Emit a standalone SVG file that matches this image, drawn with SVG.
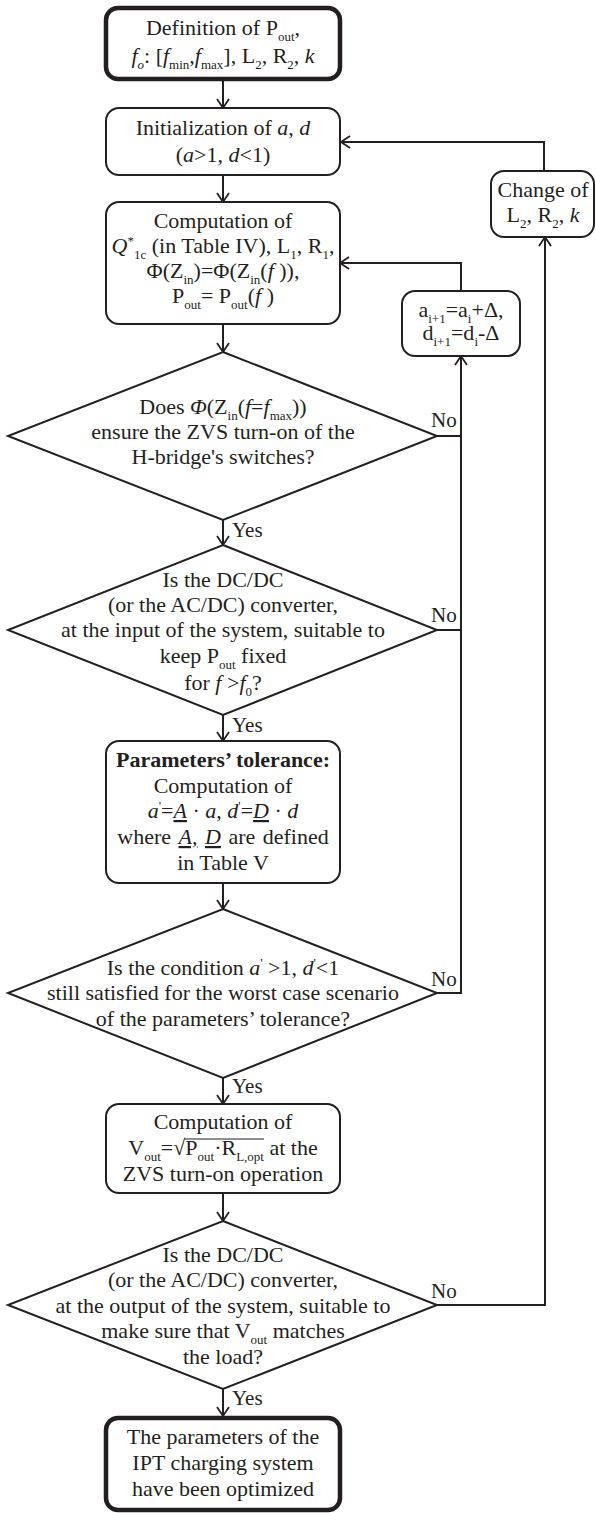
<svg xmlns="http://www.w3.org/2000/svg" width="596" height="1513" viewBox="0 0 596 1513">
<style>
text{font-family:"Liberation Serif","Times New Roman",serif;font-size:22px;fill:#231f20;text-anchor:middle}
.lbl{font-size:21px;text-anchor:start}
.box{fill:#fff;stroke:#231f20;stroke-width:2}
.term{fill:#fff;stroke:#231f20;stroke-width:4.5}
.dia{fill:#fff;stroke:#231f20;stroke-width:2;stroke-linejoin:miter}
.con{fill:none;stroke:#231f20;stroke-width:2}
.i{font-style:italic}
.b{font-weight:bold}
.sub{font-size:13px;baseline-shift:-6px}
.sup{font-size:13px;baseline-shift:8px}
.u{text-decoration:underline}
</style>
<defs>
<marker id="arr" markerUnits="userSpaceOnUse" viewBox="0 0 10 14" refX="9.5" refY="7" markerWidth="10" markerHeight="14" orient="auto" overflow="visible">
<path d="M0.5,1 L9.5,7 L0.5,13" fill="none" stroke="#231f20" stroke-width="1.8"/>
</marker>
</defs>

<g id="connectors">
<path class="con" d="M223,81 V108" marker-end="url(#arr)"/>
<path class="con" d="M223,175 V202" marker-end="url(#arr)"/>
<path class="con" d="M223,324 V352" marker-end="url(#arr)"/>
<path class="con" d="M223,520 V545" marker-end="url(#arr)"/>
<path class="con" d="M223,715 V741" marker-end="url(#arr)"/>
<path class="con" d="M223,883 V909" marker-end="url(#arr)"/>
<path class="con" d="M223,1078 V1104" marker-end="url(#arr)"/>
<path class="con" d="M223,1193 V1221" marker-end="url(#arr)"/>
<path class="con" d="M223,1389 V1416" marker-end="url(#arr)"/>
<path class="con" d="M437,436 H461"/>
<path class="con" d="M437,630 H461"/>
<path class="con" d="M437,993 H461 V356" marker-end="url(#arr)"/>
<path class="con" d="M461,291 V263 H340" marker-end="url(#arr)"/>
<path class="con" d="M437,1305 H545 V237" marker-end="url(#arr)"/>
<path class="con" d="M544,171 V142 H341" marker-end="url(#arr)"/>
<text class="lbl" x="232" y="537">Yes</text>
<text class="lbl" x="232" y="732">Yes</text>
<text class="lbl" x="232" y="1093">Yes</text>
<text class="lbl" x="232" y="1405">Yes</text>
<text class="lbl" x="431" y="427">No</text>
<text class="lbl" x="431" y="622">No</text>
<text class="lbl" x="431" y="986">No</text>
<text class="lbl" x="431" y="1298">No</text>
</g>

<g id="start">
<rect class="term" x="106" y="8" width="234" height="71" rx="12"/>
<text x="223" y="35">Definition of P<tspan class="sub">out</tspan>,</text>
<text x="223" y="63"><tspan class="i">f</tspan><tspan class="sub i">o</tspan>: [<tspan class="i">f</tspan><tspan class="sub">min</tspan>,<tspan class="i">f</tspan><tspan class="sub">max</tspan>], L<tspan class="sub">2</tspan>, R<tspan class="sub">2</tspan>, <tspan class="i">k</tspan></text>
</g>

<g id="init">
<rect class="box" x="106" y="108" width="234" height="67" rx="13"/>
<text x="223" y="135">Initialization of <tspan class="i">a</tspan>, <tspan class="i">d</tspan></text>
<text x="223" y="162">(<tspan class="i">a</tspan>&gt;1, <tspan class="i">d</tspan>&lt;1)</text>
</g>

<g id="compute1">
<rect class="box" x="106" y="202" width="234" height="122" rx="13"/>
<text x="223" y="228">Computation of</text>
<text x="223" y="253"><tspan class="i">Q</tspan><tspan class="sup">*</tspan><tspan class="sub">1c</tspan> (in Table IV), L<tspan class="sub">1</tspan>, R<tspan class="sub">1</tspan>,</text>
<text x="223" y="278">Φ(Z<tspan class="sub">in</tspan>)=Φ(Z<tspan class="sub">in</tspan>(<tspan class="i">f</tspan> )),</text>
<text x="223" y="303">P<tspan class="sub">out</tspan>= P<tspan class="sub">out</tspan>(<tspan class="i">f</tspan> )</text>
</g>

<g id="change">
<rect class="box" x="491" y="171" width="103" height="66" rx="13"/>
<text x="543" y="197">Change of</text>
<text x="543" y="222">L<tspan class="sub">2</tspan>, R<tspan class="sub">2</tspan>, <tspan class="i">k</tspan></text>
</g>

<g id="update">
<rect class="box" x="402" y="291" width="118" height="65" rx="13"/>
<text x="461" y="317">a<tspan class="sub">i+1</tspan>=a<tspan class="sub">i</tspan>+Δ,</text>
<text x="461" y="340">d<tspan class="sub">i+1</tspan>=d<tspan class="sub">i</tspan>-Δ</text>
</g>

<g id="zvs-check">
<polygon class="dia" points="223,352 437,436 223,520 8,436"/>
<text x="223" y="414">Does <tspan class="i">Φ</tspan>(Z<tspan class="sub">in</tspan>(<tspan class="i">f</tspan>=<tspan class="i">f</tspan><tspan class="sub">max</tspan>))</text>
<text x="223" y="439">ensure the ZVS turn-on of the</text>
<text x="223" y="464">H-bridge's switches?</text>
</g>

<g id="input-check">
<polygon class="dia" points="223,545 437,630 223,715 8,630"/>
<text x="223" y="587">Is the DC/DC</text>
<text x="223" y="612">(or the AC/DC) converter,</text>
<text x="223" y="637">at the input of the system, suitable to</text>
<text x="223" y="663">keep P<tspan class="sub">out</tspan> fixed</text>
<text x="223" y="690">for <tspan class="i">f</tspan> &gt;<tspan class="i">f</tspan><tspan class="sub">0</tspan>?</text>
</g>

<g id="tolerance">
<rect class="box" x="106" y="741" width="234" height="142" rx="13"/>
<text x="223" y="767" class="b">Parameters’ tolerance:</text>
<text x="223" y="793">Computation of</text>
<text x="223" y="818"><tspan class="i">a</tspan><tspan class="sup">'</tspan>=<tspan class="i u">A</tspan> · <tspan class="i">a</tspan>, <tspan class="i">d</tspan><tspan class="sup">'</tspan>=<tspan class="i u">D</tspan> · <tspan class="i">d</tspan></text>
<text x="223" y="844" word-spacing="2">where <tspan class="i u">A,</tspan> <tspan class="i u">D</tspan> are defined</text>
<text x="223" y="870">in Table V</text>
</g>

<g id="tolerance-check">
<polygon class="dia" points="223,909 437,993 223,1078 8,993"/>
<text x="223" y="975">Is the condition <tspan class="i">a</tspan><tspan class="sup">'</tspan> &gt;1, <tspan class="i">d</tspan><tspan class="sup">'</tspan>&lt;1</text>
<text x="223" y="1000">still satisfied for the worst case scenario</text>
<text x="223" y="1026">of the parameters’ tolerance?</text>
</g>

<g id="compute-vout">
<rect class="box" x="106" y="1104" width="234" height="89" rx="13"/>
<text x="223" y="1129">Computation of</text>
<text x="223" y="1155">V<tspan class="sub">out</tspan>=√P<tspan class="sub">out</tspan>·R<tspan class="sub">L,opt</tspan> at the</text>
<line x1="185" y1="1139" x2="264" y2="1139" stroke="#231f20" stroke-width="1.2"/>
<text x="223" y="1181">ZVS turn-on operation</text>
</g>

<g id="output-check">
<polygon class="dia" points="223,1221 437,1305 223,1389 8,1305"/>
<text x="223" y="1262">Is the DC/DC</text>
<text x="223" y="1287">(or the AC/DC) converter,</text>
<text x="223" y="1313">at the output of the system, suitable to</text>
<text x="223" y="1338">make sure that V<tspan class="sub">out</tspan> matches</text>
<text x="223" y="1364">the load?</text>
</g>

<g id="end">
<rect class="term" x="106" y="1418" width="234" height="92" rx="12"/>
<text x="223" y="1444">The parameters of the</text>
<text x="223" y="1470">IPT charging system</text>
<text x="223" y="1496">have been optimized</text>
</g>
</svg>
